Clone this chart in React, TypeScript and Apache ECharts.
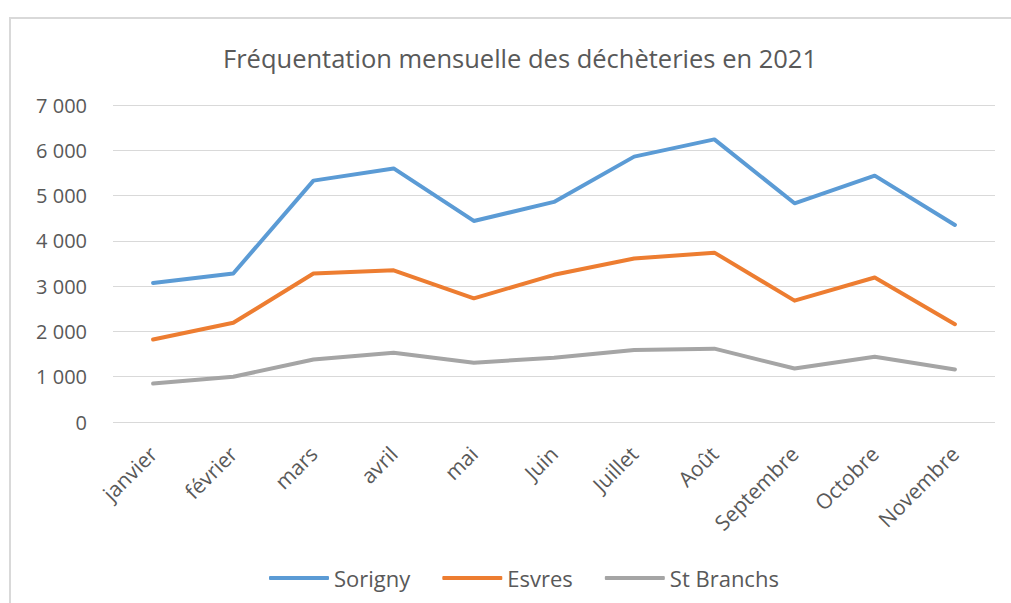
import React, { useEffect, useRef } from "react";
import * as echarts from "echarts";

const title = "Fréquentation mensuelle des déchèteries en 2021";
const months = ["janvier", "février", "mars", "avril", "mai", "Juin", "Juillet", "Août", "Septembre", "Octobre", "Novembre"];
const sorigny = [3070, 3280, 5330, 5600, 4440, 4860, 5860, 6240, 4830, 5440, 4350];
const esvres = [1820, 2190, 3280, 3350, 2730, 3250, 3610, 3740, 2680, 3190, 2160];
const stBranchs = [850, 1000, 1380, 1530, 1310, 1420, 1590, 1620, 1180, 1440, 1160];
const seriesNames = ["Sorigny", "Esvres", "St Branchs"];
const colors = ["#5B9BD5", "#ED7D31", "#A5A5A5"];

const FONT = "'Open Sans', sans-serif";
const TXT = "#595959";

function fmt(v: number): string {
  const s = String(Math.round(v));
  return s.replace(/\B(?=(\d{3})+(?!\d))/g, " ");
}

export default function App() {
  const ref = useRef<HTMLDivElement>(null);
  useEffect(() => {
    if (!ref.current) return;
    const chart = echarts.init(ref.current, null, { renderer: "svg" });
    const data = [sorigny, esvres, stBranchs];
    chart.setOption({
      animation: false,
      backgroundColor: "#ffffff",
      color: colors,
      title: {
        text: title,
        left: 218,
        top: 40,
        textStyle: { fontFamily: FONT, fontSize: 25.5, fontWeight: "normal", color: TXT },
      },
      graphic: [
        {
          type: "rect",
          shape: { x: 10, y: 18, width: 1100, height: 700 },
          style: { fill: "none", stroke: "#D9D9D9", lineWidth: 2 },
          silent: true,
        },
      ],
      grid: { left: 113, right: 16, top: 105, bottom: 181, containLabel: false },
      legend: {
        data: seriesNames,
        top: 562,
        left: 264,
        icon: "roundRect",
        itemWidth: 60,
        itemHeight: 4,
        itemGap: 32,
        textStyle: { fontFamily: FONT, fontSize: 22, color: TXT },
      },
      xAxis: {
        type: "category",
        data: months,
        boundaryGap: true,
        axisLine: { show: false },
        axisTick: { show: false },
        axisLabel: {
          rotate: 45,
          interval: 0,
          margin: 28,
          fontFamily: FONT,
          fontSize: 21,
          color: TXT,
        },
      },
      yAxis: {
        type: "value",
        min: 0,
        max: 7000,
        interval: 1000,
        axisLine: { show: false },
        axisTick: { show: false },
        splitLine: { lineStyle: { color: "#D9D9D9", width: 1 } },
        axisLabel: {
          margin: 26,
          fontFamily: FONT,
          fontSize: 20,
          color: TXT,
          formatter: (v: number) => fmt(v),
        },
      },
      series: seriesNames.map((name, i) => ({
        name,
        type: "line",
        data: data[i],
        symbol: "none",
        lineStyle: { width: 4, color: colors[i], cap: "round", join: "round" },
        itemStyle: { color: colors[i] },
      })),
    });
    return () => chart.dispose();
  }, []);
  return (
    <div
      ref={ref}
      style={{ position: "fixed", left: 0, top: 0, width: 1011, height: 603, background: "#fff" }}
    />
  );
}
